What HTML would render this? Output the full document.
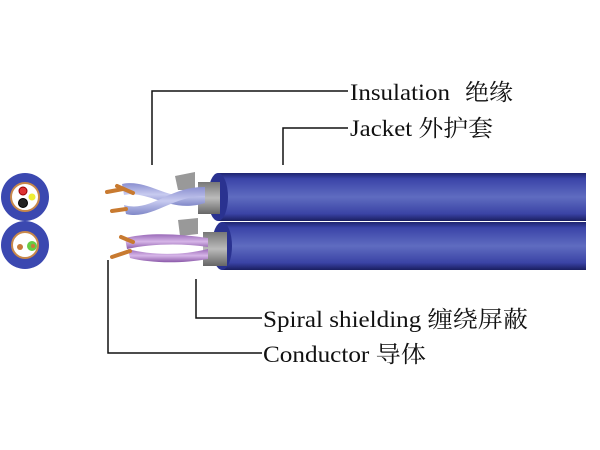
<!DOCTYPE html>
<html><head><meta charset="utf-8"><style>
html,body{margin:0;padding:0;background:#fff;width:600px;height:450px;overflow:hidden}
text{font-family:"Liberation Serif","Noto Serif CJK SC",serif;font-size:23px;fill:#111}
</style></head><body>
<svg width="600" height="450" viewBox="0 0 600 450" xmlns="http://www.w3.org/2000/svg">
<defs>
<linearGradient id="cab" x1="0" y1="0" x2="0" y2="1">
<stop offset="0" stop-color="#1e2470"/><stop offset="0.12" stop-color="#3a44a8"/>
<stop offset="0.5" stop-color="#5f6cc0"/><stop offset="0.85" stop-color="#3a43a5"/><stop offset="1" stop-color="#1a1f60"/>
</linearGradient>
<linearGradient id="sh" x1="0" y1="0" x2="0" y2="1">
<stop offset="0" stop-color="#777"/><stop offset="0.5" stop-color="#bbb"/><stop offset="1" stop-color="#666"/>
</linearGradient>
<linearGradient id="ins1" x1="0" y1="0" x2="0" y2="1">
<stop offset="0" stop-color="#8a8fd0"/><stop offset="0.5" stop-color="#c8cbf0"/><stop offset="1" stop-color="#8088c8"/>
</linearGradient>
<linearGradient id="ins2" x1="0" y1="0" x2="0" y2="1">
<stop offset="0" stop-color="#9a6ab8"/><stop offset="0.5" stop-color="#d6b6e8"/><stop offset="1" stop-color="#8a58a8"/>
</linearGradient>
</defs>
<circle cx="25" cy="197" r="24" fill="#3b48b0"/>
<circle cx="25" cy="197" r="14" fill="#fff" stroke="#c8884a" stroke-width="2"/>
<circle cx="23" cy="191" r="4" fill="#d33" stroke="#900" stroke-width="1"/>
<circle cx="23" cy="203" r="4.5" fill="#222" stroke="#000"/>
<circle cx="32" cy="197" r="3.5" fill="#ee3"/>
<circle cx="25" cy="245" r="24" fill="#3b48b0"/>
<circle cx="25" cy="245" r="13" fill="#fff" stroke="#c8884a" stroke-width="2"/>
<circle cx="20" cy="247" r="3" fill="#c77a3a"/>
<circle cx="32" cy="246" r="5" fill="#6c4"/>
<circle cx="33" cy="246" r="2" fill="#c77a3a"/>
<rect x="218" y="173" width="368" height="48" fill="url(#cab)"/>
<ellipse cx="218" cy="197" rx="10" ry="24" fill="#2a3290"/>
<rect x="222" y="222" width="364" height="48" fill="url(#cab)"/>
<ellipse cx="222" cy="246" rx="10" ry="24" fill="#2a3290"/>
<rect x="198" y="182" width="22" height="32" fill="url(#sh)"/>
<rect x="203" y="232" width="24" height="34" fill="url(#sh)"/>
<path d="M175 176 L195 172 L195 190 L178 190 Z" fill="#999"/>
<path d="M178 220 L198 218 L198 234 L180 236 Z" fill="#999"/>
<path d="M122 184 C150 178 170 205 205 194 L205 203 C170 214 150 190 124 195 Z" fill="url(#ins1)"/>
<path d="M124 205 C150 213 170 186 205 187 L205 196 C172 196 152 220 126 214 Z" fill="url(#ins1)"/>
<path d="M125 238 C150 232 180 234 208 238 L208 247 C180 243 150 244 127 249 Z" fill="url(#ins2)"/>
<path d="M128 249 C150 255 180 256 208 249 L208 259 C180 264 150 263 130 258 Z" fill="url(#ins2)"/>
<g stroke="#c87a30" stroke-width="4" stroke-linecap="round">
<line x1="107" y1="192" x2="123" y2="189"/><line x1="117" y1="186" x2="133" y2="193"/>
<line x1="112" y1="211" x2="126" y2="209"/>
<line x1="121" y1="237" x2="133" y2="242"/><line x1="112" y1="257" x2="130" y2="251"/>
</g>
<g fill="none" stroke="#111" stroke-width="1.5">
<polyline points="152,165 152,91 348,91"/>
<polyline points="283,165 283,128 348,128"/>
<polyline points="196,279 196,318 262,318"/>
<polyline points="108,260 108,353 262,353"/>
</g>
<text x="350" y="100" textLength="100" lengthAdjust="spacingAndGlyphs">Insulation</text>
<text x="465" y="100" textLength="48" lengthAdjust="spacingAndGlyphs">绝缘</text>
<text x="350" y="136" textLength="143" lengthAdjust="spacingAndGlyphs">Jacket 外护套</text>
<text x="263" y="327" textLength="265" lengthAdjust="spacingAndGlyphs">Spiral shielding 缠绕屏蔽</text>
<text x="263" y="362" textLength="163" lengthAdjust="spacingAndGlyphs">Conductor 导体</text>
</svg>
</body></html>
